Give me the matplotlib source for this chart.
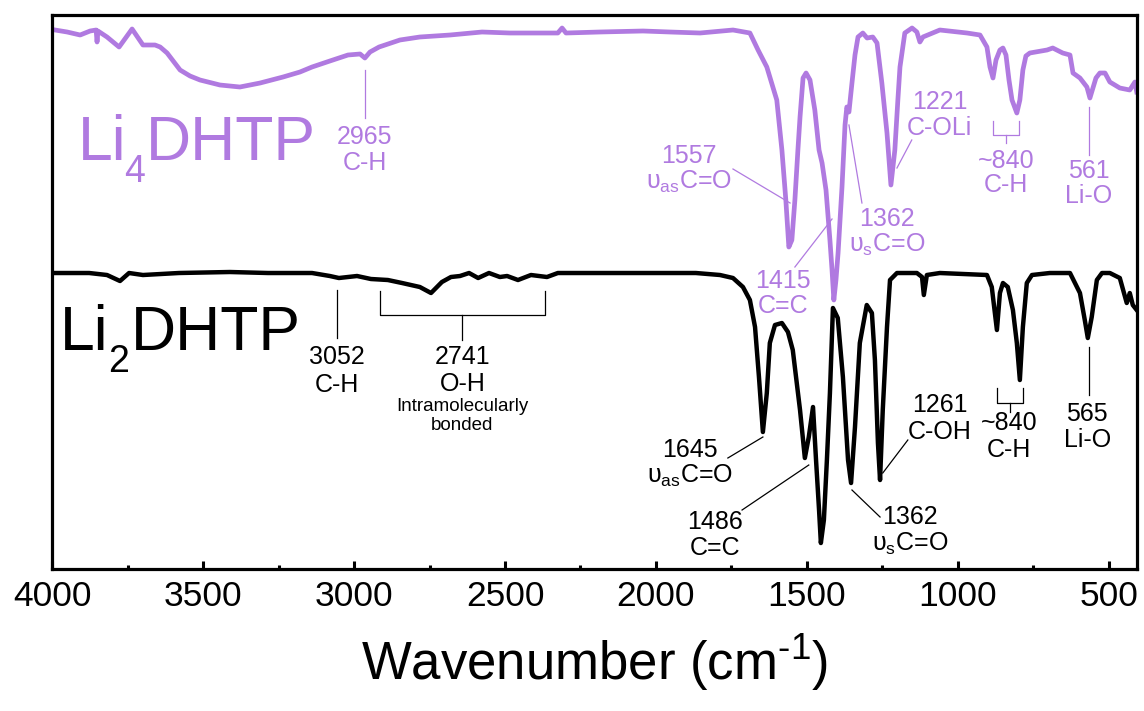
import matplotlib.pyplot as plt
from matplotlib.ticker import MultipleLocator

plt.rcParams['font.family'] = ['Liberation Sans', 'DejaVu Sans']
plt.rcParams['mathtext.fontset'] = 'custom'
plt.rcParams['mathtext.rm'] = 'Liberation Sans'
plt.rcParams['mathtext.it'] = 'Liberation Sans:italic'

PURPLE = '#b07ae0'

# Li4DHTP spectrum (wavenumber, transmittance a.u.)
li4_wn = [3990, 3950, 3907, 3874, 3854, 3851, 3848, 3818, 3778, 3735, 3699, 3659,
          3642, 3619, 3576, 3543, 3510, 3444, 3378, 3311, 3235, 3179, 3139, 3080,
          3020, 2980, 2964, 2947, 2917, 2848, 2782, 2682, 2576, 2484, 2397, 2325,
          2311, 2298, 2186, 2043, 1954, 1854, 1745, 1689, 1662, 1633, 1600, 1583,
          1570, 1560, 1550, 1540, 1530, 1523, 1513, 1503, 1490, 1474, 1460, 1450,
          1437, 1424, 1417, 1411, 1404, 1397, 1384, 1374, 1368, 1361, 1351, 1341,
          1331, 1315, 1301, 1282, 1268, 1252, 1235, 1222, 1209, 1199, 1192, 1176,
          1152, 1136, 1126, 1116, 1060, 970, 927, 904, 894, 884, 874, 861,
          851, 841, 831, 821, 805, 795, 785, 775, 762, 705, 686, 653,
          629, 619, 596, 573, 563, 553, 543, 530, 513, 497, 464, 431,
          414, 408]
li4_t = [539, 537, 534, 538, 539, 527, 538, 532, 522, 540, 524, 524,
         522, 516, 499, 493, 489, 484, 482, 486, 492, 497, 502, 508,
         514, 515, 511, 517, 522, 529, 532, 534, 537, 536, 536, 536,
         541, 536, 537, 538, 537, 536, 539, 536, 519, 502, 469, 419,
         369, 322, 329, 369, 419, 452, 491, 496, 489, 459, 419, 406,
         379, 329, 299, 269, 289, 316, 382, 444, 462, 457, 486, 514,
         532, 536, 531, 532, 526, 486, 436, 384, 419, 469, 502, 536,
         541, 537, 527, 532, 539, 536, 534, 522, 502, 491, 509, 519,
         521, 514, 489, 469, 456, 469, 499, 513, 516, 519, 521, 516,
         514, 496, 491, 482, 471, 481, 491, 496, 496, 487, 481, 479,
         487, 477]

# Li2DHTP spectrum
li2_wn = [3987, 3877, 3818, 3775, 3745, 3699, 3580, 3411, 3285, 3139, 3080, 3050,
          2990, 2944, 2888, 2841, 2782, 2745, 2709, 2679, 2649, 2619, 2589, 2553,
          2517, 2493, 2457, 2414, 2361, 2325, 2103, 1868, 1788, 1745, 1712, 1689,
          1672, 1659, 1646, 1633, 1623, 1606, 1583, 1563, 1547, 1523, 1507, 1494,
          1480, 1470, 1460, 1454, 1444, 1434, 1424, 1414, 1398, 1381, 1364, 1354,
          1341, 1325, 1302, 1285, 1275, 1265, 1258, 1249, 1235, 1225, 1202, 1136,
          1119, 1113, 1103, 1060, 904, 888, 871, 861, 851, 835, 818, 805,
          795, 785, 772, 755, 696, 629, 596, 580, 570, 557, 540, 523,
          497, 464, 441, 431, 421, 408]
li2_t = [296, 296, 294, 288, 296, 294, 296, 297, 296, 296, 293, 291,
         293, 290, 289, 286, 282, 276, 287, 292, 293, 296, 291, 296,
         292, 293, 289, 294, 292, 296, 296, 296, 294, 291, 282, 269,
         242, 192, 137, 176, 226, 244, 246, 237, 219, 159, 111, 132,
         162, 109, 59, 26, 49, 109, 176, 261, 251, 192, 109, 86,
         142, 226, 264, 256, 209, 126, 89, 159, 242, 289, 296, 296,
         292, 274, 294, 296, 294, 282, 239, 276, 286, 282, 259, 226,
         189, 242, 286, 294, 296, 296, 276, 249, 231, 252, 289, 296,
         296, 291, 266, 276, 264, 259]

fig = plt.figure(figsize=(11.44, 7.11), dpi=100)
ax = fig.add_axes([0.0455, 0.1997, 0.9484, 0.7792])

ax.plot(li4_wn, li4_t, color=PURPLE, lw=3.4, solid_joinstyle='round')
ax.plot(li2_wn, li2_t, color='black', lw=3.2, solid_joinstyle='round')

ax.set_xlim(4000, 407)
ax.set_ylim(0, 554)
ax.set_yticks([])
ax.xaxis.set_major_locator(MultipleLocator(500))
ax.xaxis.set_minor_locator(MultipleLocator(250))
ax.tick_params(axis='x', which='major', direction='in', length=6, width=2.2,
               labelsize=25.5, pad=8)
ax.tick_params(axis='x', which='minor', direction='in', length=3, width=2.2)
for sp in ax.spines.values():
    sp.set_linewidth(2.3)
ax.set_xlabel(r'Wavenumber (cm$^{\text{-1}}$)', fontsize=38, labelpad=14)


def name(x_li, x_sub, x_rest, y, sub, color):
    # chemical name with a large, low subscript
    ax.text(x_li, y, 'Li', color=color, fontsize=45, ha='left', va='baseline')
    ax.text(x_sub, y - 22, sub, color=color, fontsize=27, ha='left', va='baseline')
    ax.text(x_rest, y, 'DHTP', color=color, fontsize=45, ha='left', va='baseline')


name(3914, 3760, 3688, 409, '4', PURPLE)
name(3974, 3813, 3740, 219, '2', 'black')


def label(x, ys, lines, color, size=18):
    for y, s in zip(ys, lines):
        ax.text(x, y, s, color=color, fontsize=size, ha='center', va='center')


def leader(x0, y0, x1, y1, color):
    ax.plot([x0, x1], [y0, y1], color=color, lw=0.9)


def bracket(xl, xr, ytop, ybot, yc, color):
    ax.plot([xl, xl, xr, xr], [ytop, ybot, ybot, ytop], color=color, lw=0.9)
    ax.plot([(xl + xr) / 2] * 2, [ybot, yc], color=color, lw=0.9)


# Li4DHTP annotations
label(2964, [432, 406], ['2965', 'C-H'], PURPLE)
leader(2964, 499, 2964, 451, PURPLE)
label(1892, [413, 387], ['1557', 'υ$_{\\mathregular{as}}$C=O'], PURPLE)
leader(1745, 400, 1556, 366, PURPLE)
label(1580, [288, 263], ['1415', 'C=C'], PURPLE)
leader(1540, 302, 1417, 350, PURPLE)
label(1236, [350, 324], ['1362', 'υ$_{\\mathregular{s}}$C=O'], PURPLE)
leader(1318, 366, 1361, 444, PURPLE)
label(1060, [467, 441], ['1221', 'C-OLi'], PURPLE)
leader(1153, 429, 1202, 401, PURPLE)
label(841, [408, 384], ['~840', 'C-H'], PURPLE)
bracket(884, 798, 448, 434, 426, PURPLE)
label(567, [398, 373], ['561', 'Li-O'], PURPLE)
leader(567, 462, 567, 414, PURPLE)

# Li2DHTP annotations
label(3056, [212, 184], ['3052', 'C-H'], 'black')
leader(3056, 279, 3056, 231, 'black')
bracket(2914, 2368, 278, 254, 229, 'black')
label(2641, [212, 185], ['2741', 'O-H'], 'black')
label(2641, [163, 144], ['Intramolecularly', 'bonded'], 'black', size=13.5)
label(1889, [119, 93], ['1645', 'υ$_{\\mathregular{as}}$C=O'], 'black')
leader(1762, 111, 1646, 132, 'black')
label(1805, [47, 21], ['1486', 'C=C'], 'black')
leader(1715, 59, 1494, 104, 'black')
label(1159, [52, 25], ['1362', 'υ$_{\\mathregular{s}}$C=O'], 'black')
leader(1258, 52, 1351, 79, 'black')
label(1060, [164, 137], ['1261', 'C-OH'], 'black')
leader(1166, 129, 1249, 96, 'black')
label(830, [146, 119], ['~840', 'C-H'], 'black')
bracket(871, 785, 181, 166, 157, 'black')
label(572, [155, 129], ['565', 'Li-O'], 'black')
leader(567, 222, 567, 174, 'black')

fig.savefig('out.png', dpi=100)
